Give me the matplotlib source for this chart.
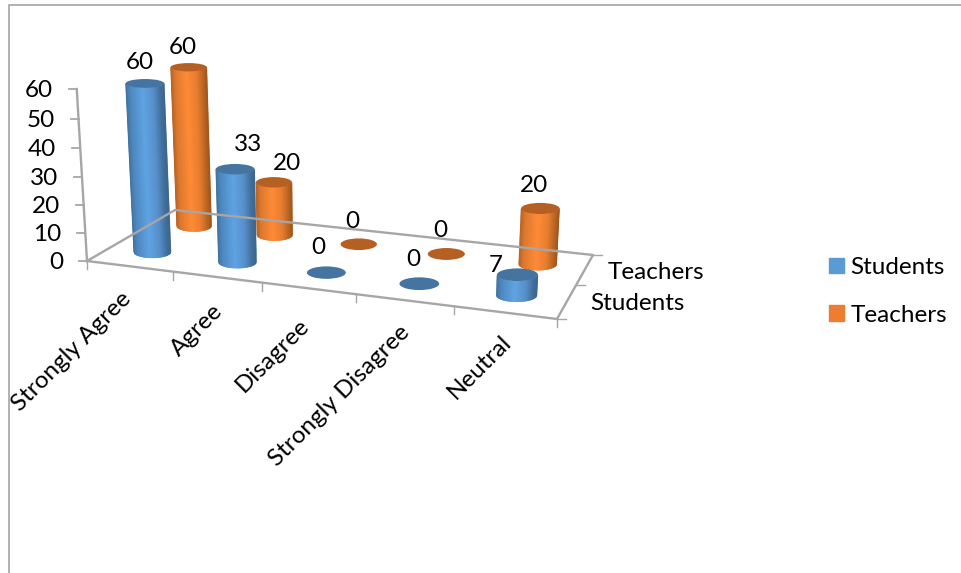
import numpy as np
import matplotlib
matplotlib.use('Agg')
import matplotlib.pyplot as plt
from matplotlib.collections import PolyCollection
from matplotlib.colors import LinearSegmentedColormap
from matplotlib.patches import Ellipse, Patch

plt.rcParams['font.family'] = ['Lato', 'DejaVu Sans']

categories = ['Strongly Agree', 'Agree', 'Disagree', 'Strongly Disagree', 'Neutral']
series_names = ['Students', 'Teachers']
students = [60, 33, 0, 0, 7]
teachers = [60, 20, 0, 0, 20]
value_ticks = [0, 10, 20, 30, 40, 50, 60]

# offsets of the value labels from the top of each cylinder, in pixels
student_label_dx = [-5, 13, -8, -6, -22]
student_label_dy = [-21, -25, -25, -24, -9]
teacher_label_dx = [-6, 13, -6, -6, -6]
teacher_label_dy = [-20, -19, -23, -23, -23]

# offsets of the slanted category labels from the front edge of the floor
category_dx = [-2, 2, -3, 2, 3]
category_dy = [29, 31, 34, 29, 26]

FONT = 17.5
GREY = '#a6a6a6'
BLUE_TOP = '#44749f'
ORANGE_TOP = '#b55f22'
blue_side = LinearSegmentedColormap.from_list('blue_side', [
    (0, '#41729f'), (0.12, '#4c87bf'), (0.45, '#5ea3e4'),
    (0.72, '#568fca'), (0.9, '#41709d'), (1, '#3a658e')])
orange_side = LinearSegmentedColormap.from_list('orange_side', [
    (0, '#b86222'), (0.12, '#db772d'), (0.45, '#ff8a35'),
    (0.72, '#e87d2f'), (0.9, '#bb6622'), (1, '#a2561c')])


def floor_camera():
    """Camera matrix: (category, series, value) to homogeneous pixels."""
    corners = [(0, 0, 87, 261), (5, 0, 557, 319), (5, 2, 593, 255), (0, 2, 175, 210)]
    rows, rhs = [], []
    for u, v, x, y in corners:
        rows.append([u, v, 1, 0, 0, 0, -u * x, -v * x])
        rows.append([0, 0, 0, u, v, 1, -u * y, -v * y])
        rhs.extend([x, y])
    h = np.linalg.solve(np.array(rows, float), np.array(rhs, float))
    plane = np.append(h, 1).reshape(3, 3)
    # uprights converge on a point far below the chart
    upright = -0.00065 * np.array([340, 4500, 1])
    return np.column_stack([plane[:, 0], plane[:, 1], upright, plane[:, 2]])


CAMERA = floor_camera()


def project(u, v, value=0):
    x, y, w = CAMERA @ np.array([u, v, value, 1.0])
    return x / w, y / w, w


def draw_cylinder(ax, u, v, value, side_cmap, top_color):
    x0, y0, w0 = project(u, v, 0)
    x1, y1, w1 = project(u, v, value)
    ref = project(0.5, 0.5, 0)[2]
    a0, a1 = 18.6 * ref / w0, 18.6 * ref / w1
    # the higher the cap, the flatter it looks
    b0, b1 = 0.32 * a0, (0.32 - 0.0015 * value) * a1
    if value > 0:
        s = np.linspace(-1, 1, 61)
        front = np.sqrt(1 - s ** 2)
        strips = []
        for i in range(len(s) - 1):
            strips.append([
                (x1 + a1 * s[i], y1 + b1 * front[i]),
                (x1 + a1 * s[i + 1], y1 + b1 * front[i + 1]),
                (x0 + a0 * s[i + 1], y0 + b0 * front[i + 1]),
                (x0 + a0 * s[i], y0 + b0 * front[i])])
        colors = side_cmap(np.linspace(0, 1, len(strips)))
        ax.add_collection(PolyCollection(strips, facecolors=colors,
                                         edgecolors=colors, linewidths=0.4))
    ax.add_patch(Ellipse((x1, y1), 2 * a1, 2 * b1, facecolor=top_color,
                         edgecolor='none'))
    return x1, y1


def draw_frame(ax):
    front = [project(u, 0)[:2] for u in range(6)]
    corners = [project(0, 0), project(5, 0), project(5, 2), project(0, 2), project(0, 0)]
    ax.plot([c[0] for c in corners], [c[1] for c in corners], color=GREY, lw=1.7)
    # value axis with its ticks
    top = project(0, 0, 60)
    ax.plot([corners[0][0], top[0]], [corners[0][1], top[1]], color=GREY, lw=1.7)
    for tick in value_ticks:
        x, y, _ = project(0, 0, tick)
        ax.plot([x - 8, x], [y, y], color=GREY, lw=1.3)
        ax.text(x - 24, y + 1.5, str(tick), ha='right', va='center', fontsize=FONT, color='black')
    for x, y in front:
        ax.plot([x, x], [y, y + 8], color=GREY, lw=1)
    for v in range(3):
        x, y, _ = project(5, v)
        ax.plot([x, x + 9], [y, y], color=GREY, lw=1)
    for i, name in enumerate(categories):
        x, y, _ = project(i + 0.5, 0)
        ax.text(x + category_dx[i], y + category_dy[i], name, rotation=45, rotation_mode='anchor',
                ha='right', va='center', fontsize=FONT, color='black')
    for v, name, dy in zip((0.5, 1.5), series_names, (2, 3)):
        x, y, _ = project(5, v)
        ax.text(x + 23, y + dy, name, ha='left', va='center', fontsize=FONT, color='black')


fig = plt.figure(figsize=(9.61, 5.73), dpi=100)
ax = fig.add_axes([0, 0, 1, 1])
ax.set_xlim(0, 961)
ax.set_ylim(573, 0)
ax.axis('off')

# outer chart border, open on the right and bottom
ax.plot([8.5, 8.5, 961], [573, 5, 5], color='#ababab', lw=1.3)

draw_frame(ax)

for i in range(len(categories)):
    x, y = draw_cylinder(ax, i + 0.5, 1.5, teachers[i], orange_side, ORANGE_TOP)
    ax.text(x + teacher_label_dx[i], y + teacher_label_dy[i], str(teachers[i]),
            ha='center', va='center', fontsize=FONT, color='black')
for i in range(len(categories)):
    x, y = draw_cylinder(ax, i + 0.5, 0.5, students[i], blue_side, BLUE_TOP)
    ax.text(x + student_label_dx[i], y + student_label_dy[i], str(students[i]),
            ha='center', va='center', fontsize=FONT, color='black')

handles = [Patch(color='#5b9bd5'), Patch(color='#ed7d31')]
ax.legend(handles, series_names, loc='upper left', bbox_to_anchor=(829 / 961, 1 - 257 / 573),
          frameon=False, fontsize=FONT, handlelength=0.62, handleheight=0.62,
          handletextpad=0.25, labelspacing=1.1, borderpad=0, borderaxespad=0)

fig.savefig('out.png', dpi=100)
